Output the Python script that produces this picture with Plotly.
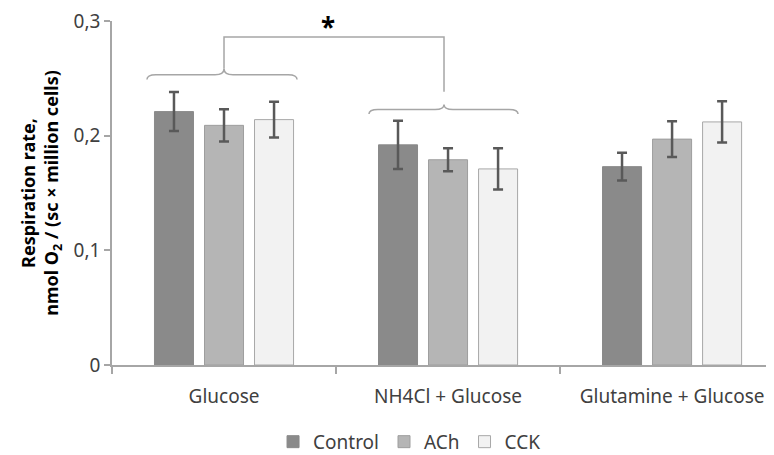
import plotly.graph_objects as go

categories = ["Glucose", "NH4Cl + Glucose", "Glutamine + Glucose"]
series_names = ["Control", "ACh", "CCK"]
control = [0.221, 0.192, 0.173]
control_err = [0.017, 0.021, 0.012]
ach = [0.209, 0.179, 0.197]
ach_err = [0.014, 0.010, 0.0155]
cck = [0.214, 0.171, 0.212]
cck_err = [0.0155, 0.018, 0.018]
y_ticks = [0, 0.1, 0.2, 0.3]
y_tick_labels = ["0", "0,1", "0,2", "0,3"]

fills = ["#8a8a8a", "#b5b5b5", "#f2f2f2"]
borders = ["#8a8a8a", "#9e9e9e", "#a8a8a8"]
font = "Noto Sans"

fig = go.Figure()
xs = list(range(len(categories)))
for name, vals, errs, fc, bc in zip(series_names, [control, ach, cck],
                                    [control_err, ach_err, cck_err], fills, borders):
    fig.add_trace(go.Bar(
        x=xs, y=vals, name=name,
        marker=dict(color=fc, line=dict(color=bc, width=1)),
        error_y=dict(type="data", array=errs, visible=True,
                     color="#595959", thickness=2.5, width=5),
    ))

def brace(x0, x1, xc, yl, ytip, yend, dx=0.04):
    return (f"M {x0},{yend} Q {x0},{yl} {x0+dx},{yl} L {xc-dx},{yl} "
            f"Q {xc},{yl} {xc},{ytip} Q {xc},{yl} {xc+dx},{yl} "
            f"L {x1-dx},{yl} Q {x1},{yl} {x1},{yend}")

shapes = [
    dict(type="path", xref="x", yref="y",
         path=brace(-0.344, 0.326, 0.0, 0.2532, 0.2584, 0.2490),
         line=dict(color="#a6a6a6", width=1.5)),
    dict(type="path", xref="x", yref="y",
         path=brace(0.647, 1.3125, 0.982, 0.2228, 0.2272, 0.2188),
         line=dict(color="#a6a6a6", width=1.5)),
    dict(type="path", xref="x", yref="y",
         path="M 0.0,0.2584 L 0.0,0.2861 L 0.982,0.2861 L 0.982,0.2384",
         line=dict(color="#a6a6a6", width=1.5)),
]

fig.update_layout(
    width=766, height=447,
    margin=dict(l=104, r=0, t=11, b=90),
    paper_bgcolor="white", plot_bgcolor="white",
    barmode="group", bargap=0.33, bargroupgap=0.22,
    font=dict(family=font, size=19, color="#404040"),
    shapes=shapes,
    legend=dict(orientation="h", x=0.346, xanchor="left", xref="container",
                y=0.072, yanchor="top", yref="container",
                font=dict(size=19, color="#404040"),
                itemwidth=30, traceorder="normal"),
    annotations=[dict(x=0.464, y=1.041, xref="x", yref="paper", text="<b>*</b>",
                      yanchor="top", showarrow=False,
                      font=dict(size=26, color="#000000"))],
    xaxis=dict(range=[-0.5, 2.455], tickvals=xs, ticktext=categories,
               ticks="", showline=True, linecolor="#a6a6a6", linewidth=1.5,
               showgrid=False, zeroline=False, tickfont=dict(size=19),
               ticklabelstandoff=13,
               minor=dict(tickvals=[-0.5, 0.5, 1.5, 2.5], ticks="outside",
                          ticklen=7, tickcolor="#a6a6a6", tickwidth=1.5, showgrid=False)),
    yaxis=dict(range=[0, 0.3], tickvals=y_ticks, ticktext=y_tick_labels,
               ticks="outside", ticklen=6, tickcolor="#a6a6a6", tickwidth=1.5,
               showline=True, linecolor="#a6a6a6", linewidth=1.5,
               showgrid=False, zeroline=False, tickfont=dict(size=19),
               ticklabeloverflow="allow",
               title=dict(text="<b>Respiration rate,<br>nmol O<sub>2</sub> / (sc × million cells)</b>",
                          font=dict(size=18, color="#000000"), standoff=10)),
)

fig.write_html("out.html")
